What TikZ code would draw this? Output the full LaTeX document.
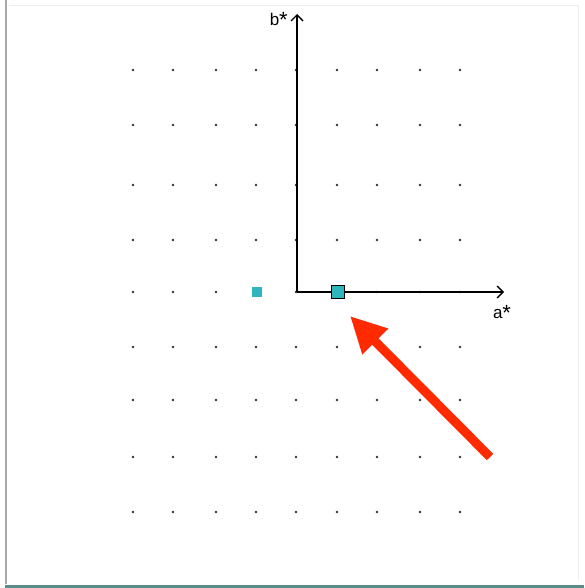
\documentclass[tikz,border=0pt]{standalone}
\usepackage{fontspec}
\setmainfont{Liberation Sans}
\usetikzlibrary{arrows.meta}
\definecolor{arrowred}{HTML}{FF2A00}
\definecolor{cyanfill}{HTML}{2FB5BC}
\definecolor{framegray}{HTML}{A8A8A8}
\definecolor{stripteal}{HTML}{5A8C8C}
\newcommand{\bigast}{\raisebox{-2.5pt}{\fontsize{22}{22}\selectfont *}}
\tikzset{
  griddot/.style={circle,fill=black!80,inner sep=0pt,minimum size=2.6pt},
  axisline/.style={line width=1.4pt,black,-{Straight Barb[length=6pt,width=12pt]}},
  axislabel/.style={font=\fontsize{17}{17}\selectfont,inner sep=1pt},
  bigsq/.style={draw=black,line width=1.4pt,fill=cyanfill,minimum size=13pt,inner sep=0pt},
  smallsq/.style={fill=cyanfill,minimum size=10pt,inner sep=0pt},
  redarrow/.style={arrowred,line width=9pt,-{Triangle[length=36pt,width=34pt]}}
}
\begin{document}
\begin{tikzpicture}[x=1pt,y=-1pt]
\useasboundingbox (0,0) rectangle (584,588);
\fill[white] (0,0) rectangle (584,588);
% frame
\draw[framegray,line width=1.6pt] (6,0) -- (6,584);
\draw[black!7,line width=1pt] (9,6) -- (578,6) -- (578,580);
\fill[stripteal] (5,584.5) rectangle (584,588);
% grid dots
\foreach \yy [count=\r] in {70,125,185,240,292,347,400,457,512}{
  \foreach \xx [count=\c] in {133,173,216,256,296,337,377,420,460}{
    \node[griddot] (d\r-\c) at (\xx,\yy) {};
  }
}
% axes
\coordinate (O) at (297,292);
\coordinate (btip) at (297,14);
\coordinate (atip) at (504,292);
\draw[axisline] (O) -- (btip);
\draw[axisline] (O) -- (atip);
\node[axislabel,anchor=east] (blab) at (289,20) {b\bigast};
\node[axislabel] (alab) at (502,313) {a\bigast};
% squares
\node[smallsq] (s1) at (257,292) {};
\node[bigsq] (s2) at (338,292) {};
% red arrow
\coordinate (rstart) at (490,457);
\coordinate (rtip) at (350,316);
\draw[redarrow] (rstart) -- (rtip);
\end{tikzpicture}
\end{document}
